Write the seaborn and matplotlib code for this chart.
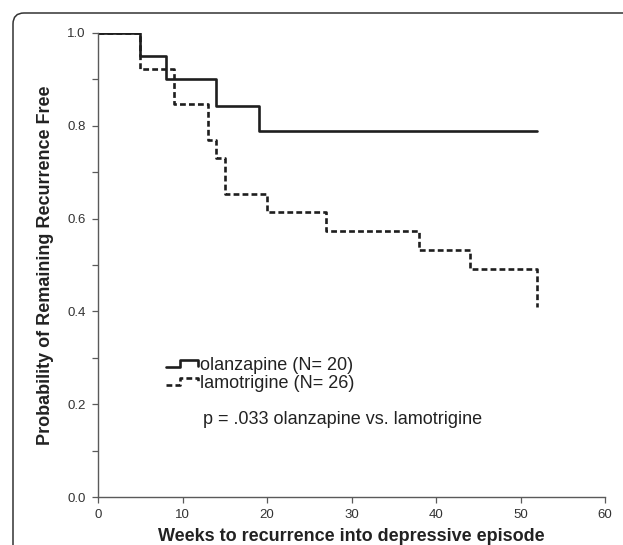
import numpy as np
import matplotlib
matplotlib.use("Agg")
import matplotlib.pyplot as plt
import matplotlib.transforms as mtransforms
from matplotlib.lines import Line2D
from matplotlib.legend_handler import HandlerBase
from matplotlib.patches import FancyBboxPatch
from matplotlib.ticker import MultipleLocator, FormatStrFormatter
import seaborn as sns

# Kaplan-Meier step values
weeks_olz = [0, 5, 8, 14, 19, 52]
surv_olz = [1.0, 0.95, 0.90, 0.842, 0.789, 0.789]
weeks_lam = [0, 5, 9, 13, 14, 15, 20, 27, 38, 44, 52, 52]
surv_lam = [1.0, 0.923, 0.846, 0.769, 0.731, 0.654, 0.615, 0.573, 0.532, 0.491, 0.491, 0.410]

labels = ["olanzapine (N= 20)", "lamotrigine (N= 26)"]
p_text = "p = .033 olanzapine vs. lamotrigine"
x_ticks = [0, 10, 20, 30, 40, 50, 60]


class StepHandler(HandlerBase):
    """Legend glyph drawn as a little survival step."""
    def create_artists(self, legend, orig_handle, xdescent, ydescent,
                       width, height, fontsize, trans):
        xs = np.array([0.0, 0.43, 0.43, 1.0, 1.0]) * width - xdescent
        ys = np.array([0.22, 0.22, 0.78, 0.78, 0.35]) * height - ydescent
        ln = Line2D(xs, ys)
        ln.update_from(orig_handle)
        ln.set_drawstyle("default")
        ln.set_data(xs, ys)
        ln.set_transform(trans)
        return [ln]


def main():
    sns.set_style("ticks")
    plt.rcParams["font.family"] = ["Liberation Sans", "DejaVu Sans"]

    fig = plt.figure(figsize=(6.23, 5.45), dpi=100)
    ax = fig.add_axes([98 / 623, 1 - 497 / 545, 507 / 623, 464 / 545])

    sns.lineplot(x=weeks_olz, y=surv_olz, estimator=None, sort=False,
                 drawstyle="steps-post", color="#1e1e1e", lw=1.9, ax=ax)
    sns.lineplot(x=weeks_lam, y=surv_lam, estimator=None, sort=False,
                 drawstyle="steps-post", color="#1e1e1e", lw=1.9, ax=ax)
    ax.lines[1].set_dashes((2.2, 1.2))

    ax.set_xlim(0, 60)
    ax.set_ylim(0, 1.0)
    ax.set_xticks(x_ticks)
    ax.yaxis.set_major_locator(MultipleLocator(0.2))
    ax.yaxis.set_minor_locator(MultipleLocator(0.1))
    ax.yaxis.set_major_formatter(FormatStrFormatter("%.1f"))

    sns.despine(ax=ax)
    for s in ("left", "bottom"):
        ax.spines[s].set_color("#5a5a5a")
        ax.spines[s].set_linewidth(1.0)
    ax.tick_params(axis="both", which="both", direction="out", length=4,
                   width=0.9, color="#5a5a5a", labelsize=9.5, labelcolor="#333333")
    ax.tick_params(axis="y", which="both", pad=5)
    ax.tick_params(axis="x", pad=5)

    ax.set_xlabel("Weeks to recurrence into depressive episode",
                  fontsize=13, fontweight="bold", color="#222222", labelpad=4.5)
    ax.set_ylabel("Probability of Remaining Recurrence Free",
                  fontsize=13, fontweight="bold", color="#222222", labelpad=9)

    ax.legend(handles=[ax.lines[0], ax.lines[1]], labels=labels,
              handler_map={Line2D: StepHandler()},
              loc="upper left", bbox_to_anchor=(166 / 623, 1 - 357 / 545),
              bbox_transform=fig.transFigure, frameon=False, fontsize=13,
              handlelength=1.75, handletextpad=0.15, labelspacing=0.05,
              borderpad=0, borderaxespad=0, labelcolor="#222222")

    ax.text(12.4, 0.166, p_text, fontsize=13, color="#222222", va="center")

    # rounded outer frame, cut by the image edges at right and bottom
    frame = FancyBboxPatch((13, -60), 700, 545 - 13 + 60,
                           boxstyle="round,pad=0,rounding_size=11",
                           transform=mtransforms.IdentityTransform(),
                           fill=False, edgecolor="#333333", lw=1.1)
    fig.add_artist(frame)

    fig.savefig("out.png", dpi=100)
    plt.close(fig)


if __name__ == "__main__":
    main()
